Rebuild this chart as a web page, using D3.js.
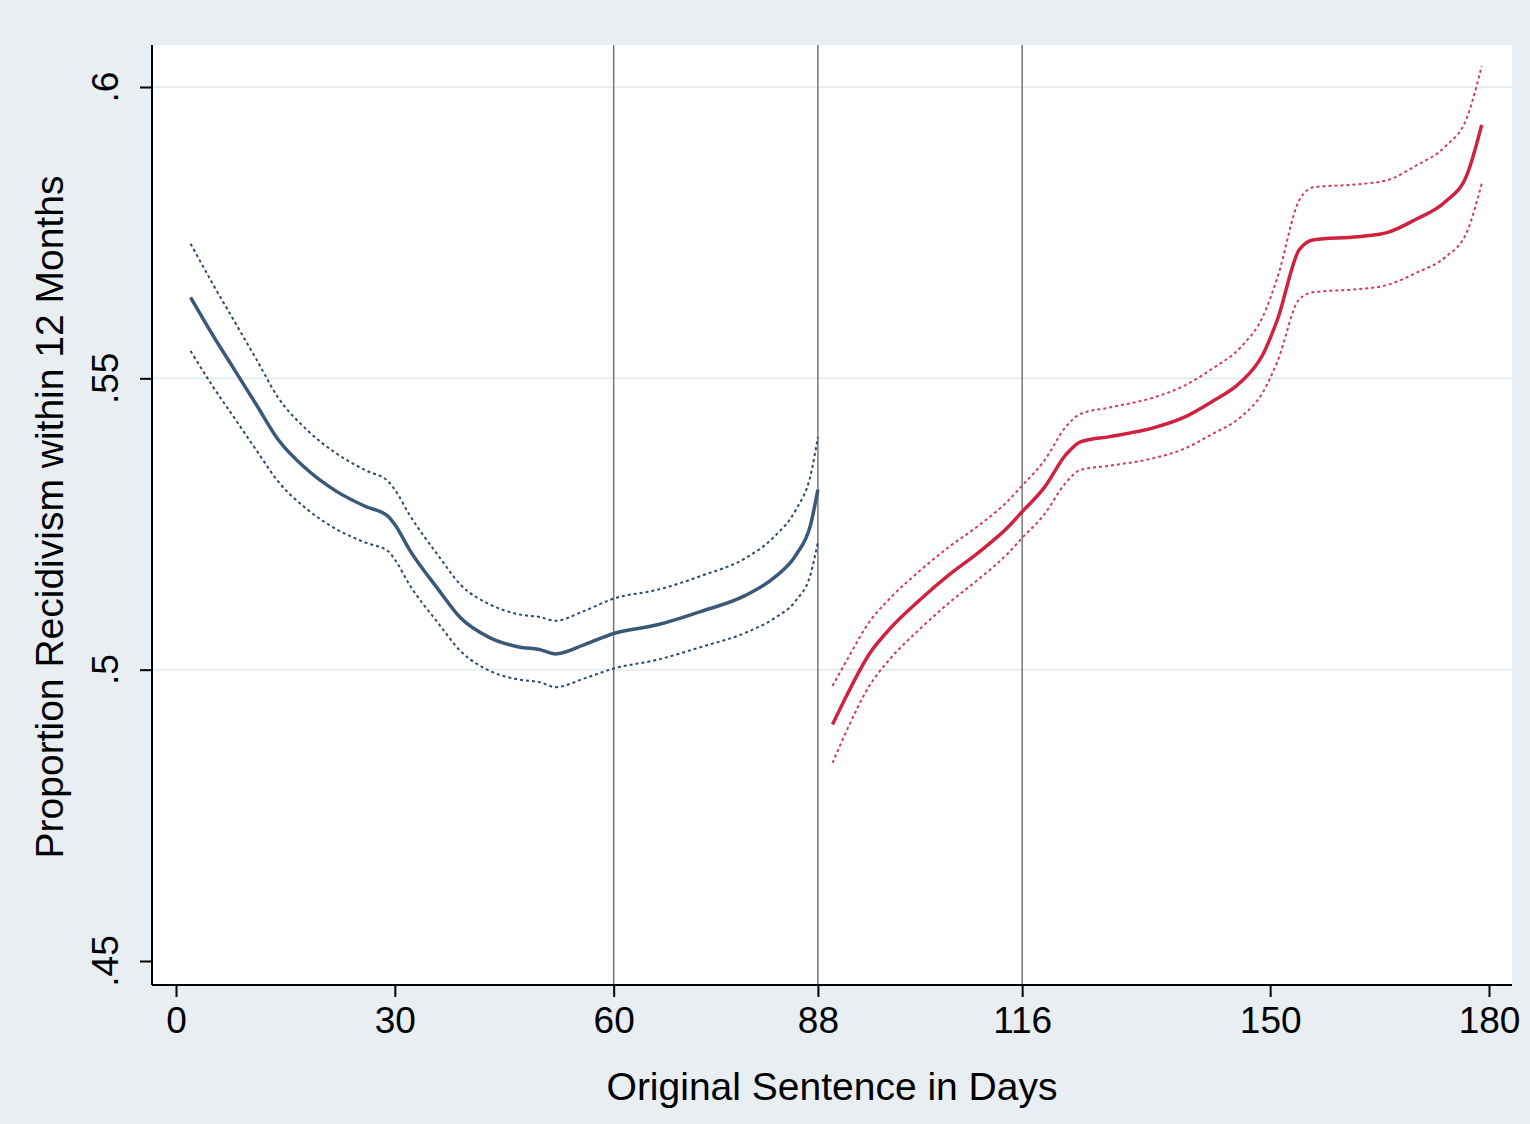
<!DOCTYPE html>
<html><head><meta charset="utf-8">
<script src="https://cdn.jsdelivr.net/npm/d3@7"></script>
<style>body{margin:0;background:#e8eef1}svg{display:block}</style>
</head><body>
<script>
const xTicks=[0,30,60,88,116,150,180];
const yTicks=[0.45,0.5,0.55,0.6];
const yTickLabels=[".45",".5",".55",".6"];
const cutoffs=[60,88,116];
const blueDays=[2,5,8,11,14,18,22,26,29,30,32,36,39,43,47,50,52,56,60,66,72,78,82,85,87,88];
const blueFit=[.5639,.5575,.5515,.5455,.5395,.5343,.5306,.528,.5264,.5249,.5206,.5137,.5089,.5055,.5039,.5034,.5027,.5043,.5062,.5077,.51,.5127,.5158,.5197,.5249,.5309];
const blueUpper=[.5731,.5663,.5598,.5533,.5467,.5411,.5371,.5342,.5324,.5309,.5266,.5195,.5146,.5112,.5095,.509,.5084,.5101,.5122,.5137,.5161,.5191,.5228,.5275,.5334,.5399];
const blueLower=[.5547,.5487,.5432,.5377,.5323,.5275,.5241,.5218,.5204,.5189,.5146,.5079,.5032,.4998,.4983,.4978,.497,.4985,.5002,.5017,.5039,.5063,.5088,.5119,.5164,.5219];
const redDays=[90,92,95,98,102,106,110,114,116,119,122,124,128,134,138,142,146,149,151,154,156,162,166,170,174,177,179];
const redFit=[.4906,.4957,.5026,.5072,.512,.5163,.5201,.5244,.5271,.5312,.5369,.5391,.54,.5415,.5432,.546,.5494,.5541,.5601,.5721,.5738,.5743,.575,.5773,.5803,.585,.5935];
const redUpper=[.4972,.5017,.5081,.5124,.517,.5211,.5247,.5289,.5316,.5358,.5417,.5439,.545,.5467,.5486,.5516,.5554,.5606,.5673,.5806,.5828,.5833,.584,.5865,.5898,.5948,.6036];
const redLower=[.484,.4897,.4971,.502,.507,.5115,.5155,.5199,.5226,.5266,.5321,.5343,.535,.5363,.5378,.5404,.5434,.5476,.5529,.5636,.5648,.5653,.566,.5681,.5708,.5752,.5834];

const W=1530,H=1124;
const svg=d3.select("body").append("svg").attr("width",W).attr("height",H);
svg.append("rect").attr("width",W).attr("height",H).attr("fill","#e8eef1");
const L=152,R=1512,T=45,B=985;
svg.append("rect").attr("x",L).attr("y",T).attr("width",R-L).attr("height",B-T).attr("fill","#fff");
const x=d3.scaleLinear().domain([0,180]).range([176,1489]);
const y=d3.scaleLinear().domain([0.45,0.6]).range([961,87]);
const font="Liberation Sans, Arial, sans-serif";
yTicks.slice(1).forEach(v=>svg.append("line").attr("x1",L).attr("x2",R).attr("y1",y(v)).attr("y2",y(v)).attr("stroke","#e6edf0").attr("stroke-width",2));
cutoffs.forEach(v=>svg.append("line").attr("x1",x(v)).attr("x2",x(v)).attr("y1",T).attr("y2",B).attr("stroke","#777").attr("stroke-width",1.5));
const xa=svg.append("g").attr("transform",`translate(0,${B})`).call(d3.axisBottom(x).tickValues(xTicks).tickSize(12).tickPadding(10));
xa.select(".domain").attr("d",`M${L},0H${R}`).attr("stroke","#000").attr("stroke-width",2);
xa.selectAll("line").attr("stroke-width",2);
xa.selectAll("text").attr("font-size",37).attr("font-family",font);
const ya=svg.append("g").attr("transform",`translate(${L},0)`).call(d3.axisLeft(y).tickValues(yTicks).tickFormat("").tickSize(12));
ya.select(".domain").attr("d",`M0,${T}V${B}`).attr("stroke","#000").attr("stroke-width",2);
ya.selectAll("line").attr("stroke-width",2);
yTicks.forEach((v,i)=>svg.append("text").attr("transform",`translate(118,${y(v)}) rotate(-90)`).attr("text-anchor","middle")
  .attr("font-size",37).attr("font-family",font).text(yTickLabels[i]));
svg.append("text").attr("x",832).attr("y",1100).attr("text-anchor","middle").attr("font-size",39).attr("font-family",font).text("Original Sentence in Days");
svg.append("text").attr("transform","translate(63,517) rotate(-90)").attr("text-anchor","middle").attr("font-size",39).attr("font-family",font).text("Proportion Recidivism within 12 Months");
const line=d3.line().x(d=>x(d[0])).y(d=>y(d[1])).curve(d3.curveMonotoneX);
function draw(days,vals,col,w,dash){
  svg.append("path").attr("d",line(days.map((d,i)=>[d,vals[i]]))).attr("fill","none").attr("stroke",col).attr("stroke-width",w).attr("stroke-dasharray",dash||null);
}
draw(blueDays,blueUpper,"#2b4a6f",2,"3,3");draw(blueDays,blueLower,"#2b4a6f",2,"3,3");draw(blueDays,blueFit,"#3a5878",3.5);
draw(redDays,redUpper,"#d43a55",2,"3,3");draw(redDays,redLower,"#d43a55",2,"3,3");draw(redDays,redFit,"#d0223f",3.5);
</script>
</body></html>
